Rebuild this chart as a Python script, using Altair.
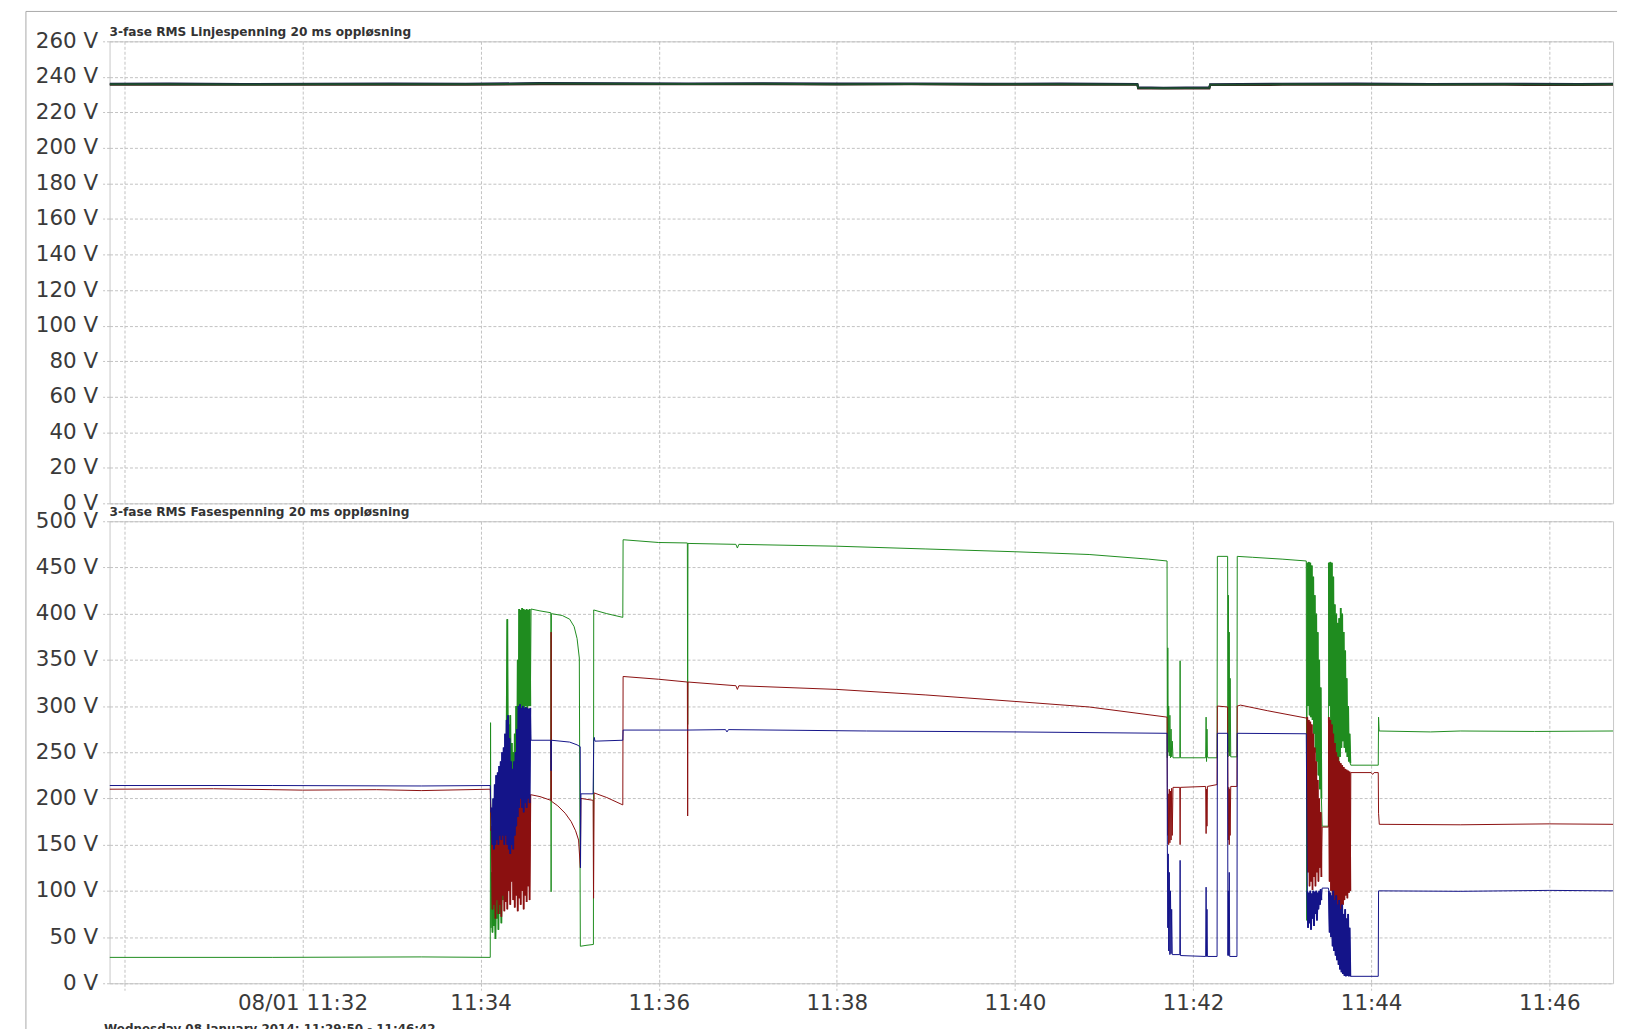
import altair as alt
import pandas as pd

# ---------------- data (time = seconds after 11:30:00, 08/01/2014) ----------------
T_START, T_END = -10, 1003
X_TICKS = [0, 120, 240, 360, 480, 600, 720, 840, 960]
STEP = 0.5  # sample spacing of the dense (oscillating) stretches

TITLE_TOP = "3-fase RMS Linjespenning 20 ms oppløsning"
TITLE_BOTTOM = "3-fase RMS Fasespenning 20 ms oppløsning"
CAPTION = "Wednesday 08 January 2014: 11:29:50 - 11:46:42"

# top panel: line voltages (three traces lying on top of each other)
top_t = [-10, 30, 80, 130, 180, 230, 280, 330, 380, 430, 480, 530, 580, 630,
         682.5, 683, 700, 731, 731.5, 780, 830, 880, 930, 980, 1003]
top_l1 = [235.8, 235.9, 235.7, 235.8, 235.9, 235.8, 236.2, 236.1, 236.0, 236.1,
          235.9, 236.0, 235.8, 235.9, 235.7, 233.8, 233.6, 233.8, 235.6, 235.8,
          235.9, 235.7, 235.8, 235.7, 235.8]
top_l2 = [235.5, 235.6, 235.5, 235.6, 235.6, 235.5, 235.9, 235.9, 235.8, 235.8,
          235.7, 235.8, 235.6, 235.6, 235.5, 233.5, 233.4, 233.5, 235.4, 235.5,
          235.6, 235.5, 235.5, 235.4, 235.5]
top_l3 = [236.1, 236.2, 236.0, 236.1, 236.2, 236.1, 236.5, 236.4, 236.3, 236.4,
          236.2, 236.3, 236.1, 236.2, 236.0, 234.1, 233.9, 234.1, 235.9, 236.1,
          236.2, 236.0, 236.1, 236.0, 236.1]

# bottom panel: phase voltages, breakpoints (t, V)
green_pts = [(-10, 28), (100, 28), (200, 28.5), (246.5, 28), (246.7, 282), (247.0, 60),
             (274.0, 405), (280, 403), (287.3, 401), (287.5, 99), (287.7, 400), (295, 398),
             (300, 394), (303, 386), (305, 373), (306.5, 352), (307.2, 40), (311, 41),
             (316, 42), (316.2, 404), (325, 400), (335.8, 396), (336.0, 480), (360, 477),
             (379.3, 476.5), (379.5, 280), (379.7, 476), (412, 475), (413, 471), (414, 475),
             (480, 473), (540, 470), (600, 467), (650, 464), (690, 459), (702.5, 457),
             (702.7, 244), (703.0, 363), (703.3, 250), (703.6, 300), (704.0, 246),
             (704.4, 290), (704.8, 244), (705.2, 275), (705.6, 245), (706.0, 262),
             (706.5, 244), (711.1, 244), (711.3, 349), (711.5, 244), (728.5, 244),
             (728.8, 288), (729.1, 240), (729.4, 275), (729.7, 246), (730.0, 244),
             (736.2, 244), (736.4, 462), (743.3, 462), (743.5, 245), (743.8, 420),
             (744.1, 250), (744.4, 380), (744.7, 246), (745.0, 330), (745.4, 245),
             (749.6, 245), (749.8, 462), (760, 461), (780, 459), (796.3, 457), (796.6, 68),
             (807.0, 170), (811.2, 170),
             (826.3, 236), (844.8, 236), (845.0, 288), (845.4, 273), (880, 272),
             (900, 273), (950, 272.5), (1003, 273)]
red_pts = [(-10, 210), (60, 210.5), (120, 209), (170, 209.5), (200, 208.5), (246.5, 210),
           (247.0, 165),
           (274.0, 204), (280, 202), (287.3, 198), (287.5, 380), (287.7, 197), (292, 192),
           (297, 184), (301, 175), (304, 165), (306, 155), (307.2, 125), (307.6, 200),
           (315.8, 198), (316.1, 92), (316.5, 206), (325, 201), (335.8, 193), (336.0, 332),
           (360, 329), (379.3, 326), (379.5, 181), (379.7, 326), (412, 322), (413, 318),
           (414, 322), (480, 318), (540, 312), (600, 305), (650, 299), (702.5, 288),
           (702.7, 212), (703.0, 160), (703.3, 205), (703.6, 150), (704.0, 210),
           (704.4, 152), (704.8, 208), (705.2, 155), (705.6, 211), (706.0, 160),
           (706.5, 212), (711.1, 212), (711.3, 150), (711.5, 212), (728.5, 213),
           (728.8, 162), (729.1, 210), (729.4, 170), (729.7, 213), (736.2, 215),
           (736.4, 300), (743.3, 299), (743.5, 214), (743.8, 155), (744.1, 212),
           (744.4, 150), (744.7, 210), (745.0, 160), (745.4, 213), (749.6, 213),
           (749.8, 300), (752, 301), (770, 295), (796.3, 287),
           (807.0, 169), (811.2, 169),
           (826.3, 228), (840, 228), (841, 226), (842, 228), (844.8, 228), (845.0, 184),
           (845.5, 172), (900, 171.5), (960, 172.5), (1003, 172)]
blue_pts = [(-10, 214), (100, 214), (200, 213.5), (246.5, 214), (247.0, 185),
            (274.0, 263), (287.3, 263), (287.5, 230), (287.7, 263), (300, 261), (305, 258),
            (307.1, 256), (307.3, 125), (307.6, 205), (315.8, 205), (316.2, 262),
            (316.6, 266), (317.0, 262), (335.8, 263), (336.0, 274), (379, 274),
            (405, 274.5), (406, 272), (407, 274.5), (500, 273), (600, 272), (702.5, 270.5),
            (702.7, 150), (703.0, 60), (703.3, 140), (703.6, 35), (704.0, 120),
            (704.4, 31), (704.8, 100), (705.2, 32), (705.6, 80), (706.0, 31), (706.5, 31),
            (711.1, 31), (711.3, 133), (711.5, 30), (728.5, 29), (728.8, 104), (729.1, 29),
            (729.4, 80), (729.7, 29), (736.2, 29), (736.4, 270.5), (743.3, 270.5),
            (743.5, 30), (743.8, 100), (744.1, 30), (744.4, 120), (744.7, 29), (749.6, 29),
            (749.8, 270.5), (796.3, 270),
            (807.0, 103), (811.2, 103),
            (826.3, 7.5), (844.8, 7.5), (845.0, 100), (900, 99.5), (960, 100.5), (1003, 100)]

# dense oscillating stretches: start time and the read-off values (every STEP s)
D1, D3A, D3B = 247.5, 797.0, 811.5
green_d1 = [120, 55, 140, 62, 110, 48, 130, 70, 150, 58,
            160, 75, 140, 65, 180, 90, 200, 110, 230, 140,
            260, 394, 180, 280, 150, 290, 170, 260, 140, 250,
            160, 270, 150, 300, 180, 350, 220, 405, 290, 404,
            295, 406, 300, 405, 292, 404, 300, 405, 295, 404,
            300, 405, 300]
blue_d1 = [190, 150, 200, 145, 215, 150, 225, 155, 228, 150,
           235, 160, 240, 155, 250, 160, 255, 150, 270, 160,
           285, 150, 290, 145, 265, 140, 240, 150, 232, 145,
           240, 160, 250, 170, 275, 180, 300, 190, 302, 200,
           298, 190, 300, 185, 298, 195, 299, 190, 298, 200,
           297, 195, 298]
red_d1 = [170, 80, 175, 85, 172, 70, 180, 90, 178, 75,
          182, 85, 185, 72, 180, 95, 188, 78, 185, 88,
          190, 80, 186, 100, 190, 85, 192, 110, 194, 90,
          196, 82, 198, 95, 200, 78, 202, 92, 203, 85,
          204, 100, 205, 80, 204, 95, 205, 88, 204, 105,
          205, 90, 204]
green_d3a = [455, 300, 456, 290, 455, 288, 452, 285, 440, 270,
             420, 250, 400, 240, 380, 225, 350, 210, 320, 200]
red_d3a = [288, 120, 285, 105, 283, 110, 280, 101, 270, 115,
           255, 105, 240, 120, 220, 110, 200, 125, 185, 115]
blue_d3a = [100, 60, 98, 65, 100, 58, 97, 70, 100, 62,
            99, 75, 100, 68, 98, 80, 100, 85, 102, 90]
green_d3b = [455, 300, 456, 280, 455, 260, 440, 240, 410, 230,
             400, 226, 390, 235, 395, 245, 406, 255, 400, 262,
             380, 255, 360, 250, 330, 245, 300, 240, 270, 238]
red_d3b = [288, 110, 285, 100, 280, 95, 270, 90, 260, 80,
           250, 75, 245, 66, 240, 72, 238, 80, 236, 85,
           234, 90, 232, 95, 231, 92, 230, 98, 229, 100]
blue_d3b = [100, 55, 98, 50, 95, 40, 100, 35, 90, 30,
            95, 25, 85, 20, 90, 15, 80, 12, 85, 10,
            75, 8, 80, 7.5, 70, 8, 75, 7.5, 60, 7.5]

# ---------------- assemble ----------------
def dense_df(dense):
    rows = []
    for k, (start, vals) in enumerate(dense):
        rows += [(start + i * STEP, v, k) for i, v in enumerate(vals)]
    return pd.DataFrame(rows, columns=["t", "v", "seg"])


def build(points, dense):
    pts = list(points) + [(t, v) for t, v, _ in dense_df(dense).itertuples(index=False)]
    pts.sort()
    return pd.DataFrame(pts, columns=["t", "v"])

green_dense = [(D1, green_d1), (D3A, green_d3a), (D3B, green_d3b)]
red_dense = [(D1, red_d1), (D3A, red_d3a), (D3B, red_d3b)]
blue_dense = [(D1, blue_d1), (D3A, blue_d3a), (D3B, blue_d3b)]
df_green = build(green_pts, green_dense)
df_red = build(red_pts, red_dense)
df_blue = build(blue_pts, blue_dense)
df_top1 = pd.DataFrame({"t": top_t, "v": top_l1})
df_top2 = pd.DataFrame({"t": top_t, "v": top_l2})
df_top3 = pd.DataFrame({"t": top_t, "v": top_l3})

# ---------------- styling ----------------
FONT = "DejaVu Sans"
GRID = "#c2c2c2"
DASH = [3, 2]
LABEL = "#3a3a3a"
W, H = 1510, 464
FS = 21.5
GREEN, RED, BLUE = "#1f8c1f", "#8b1010", "#141489"

x_scale = alt.Scale(domain=[T_START, T_END], nice=False, zero=False)
x_top = alt.X("t:Q", scale=x_scale,
              axis=alt.Axis(values=X_TICKS, grid=True, gridColor=GRID, gridDash=DASH,
                            domain=False, ticks=False, labels=False, title=None))
x_bot = alt.X("t:Q", scale=x_scale,
              axis=alt.Axis(values=X_TICKS, grid=True, gridColor=GRID, gridDash=DASH,
                            domain=False, ticks=True, tickSize=7, tickColor=GRID,
                            tickDash=DASH,
                            labelExpr="datum.value == 0 ? '' : (datum.value == 120 ? '08/01 11:32' : '11:' + format(30 + datum.value / 60, '02d'))",
                            labelFont=FONT, labelFontSize=FS, labelColor=LABEL,
                            labelPadding=2, labelFlush=False, labelOverlap=False,
                            title=CAPTION, titleFont=FONT, titleFontSize=12,
                            titleFontWeight="bold", titleColor="#333",
                            titleAlign="left", titleAnchor="start",
                            titleBaseline="top", titleX=-6, titleY=40))


def y_enc(maxv, step):
    return alt.Y("v:Q", scale=alt.Scale(domain=[0, maxv], nice=False, zero=True),
                 axis=alt.Axis(values=list(range(0, maxv + 1, step)), grid=True,
                               gridColor=GRID, gridDash=DASH, domain=False,
                               ticks=True, tickSize=7, tickColor=GRID, tickDash=DASH,
                               labelExpr="datum.value + ' V'", labelFont=FONT,
                               labelFontSize=FS, labelColor=LABEL, labelPadding=5,
                               labelFlush=False, labelOverlap=False, title=None))


def line(df, color, width, x, y, detail=False):
    enc = dict(x=x, y=y)
    if detail:
        enc["detail"] = "seg:N"
    return alt.Chart(df).mark_line(color=color, strokeWidth=width, clip=True).encode(**enc)


one = pd.DataFrame({"a": [0]})


def title_text(text, y):
    return alt.Chart(one).mark_text(text=text, align="left", baseline="middle", font=FONT,
                                    fontSize=12.2, fontWeight="bold", color="#333").encode(
        x=alt.value(0), y=alt.value(y))


frame_h = alt.Chart(one).mark_rule(color="#a8a8a8", strokeWidth=1).encode(
    x=alt.value(-84), x2=alt.value(1514), y=alt.value(-30))
frame_v = alt.Chart(one).mark_rule(color="#a8a8a8", strokeWidth=1).encode(
    x=alt.value(-84), y=alt.value(-30), y2=alt.value(1100))

y_top = y_enc(260, 20)
top = alt.layer(
    line(df_top2, "#4a1c1c", 2, x_top, y_top),
    line(df_top3, "#1c1c4a", 2, x_top, y_top),
    line(df_top1, "#1d4d2c", 2, x_top, y_top),
    title_text(TITLE_TOP, -9),
    frame_h, frame_v,
).properties(width=W, height=H)

y_bot = y_enc(500, 50)
bottom = alt.layer(
    line(df_green, GREEN, 1, x_bot, y_bot),
    line(dense_df(green_dense), GREEN, 1.8, x_bot, y_bot, detail=True),
    line(df_red, RED, 1, x_bot, y_bot),
    line(dense_df(red_dense), RED, 1.8, x_bot, y_bot, detail=True),
    line(df_blue, BLUE, 1, x_bot, y_bot),
    line(dense_df(blue_dense), BLUE, 1.8, x_bot, y_bot, detail=True),
    title_text(TITLE_BOTTOM, -9),
).properties(width=W, height=H)

chart = alt.vconcat(top, bottom, spacing=18, bounds="flush").properties(
    padding={"left": 17, "top": 0, "right": 10, "bottom": 10},
    background="white",
).configure_view(stroke="#c8c8c8", strokeWidth=1)

chart.save("out.html", embed_options={"renderer": "svg", "actions": False})
